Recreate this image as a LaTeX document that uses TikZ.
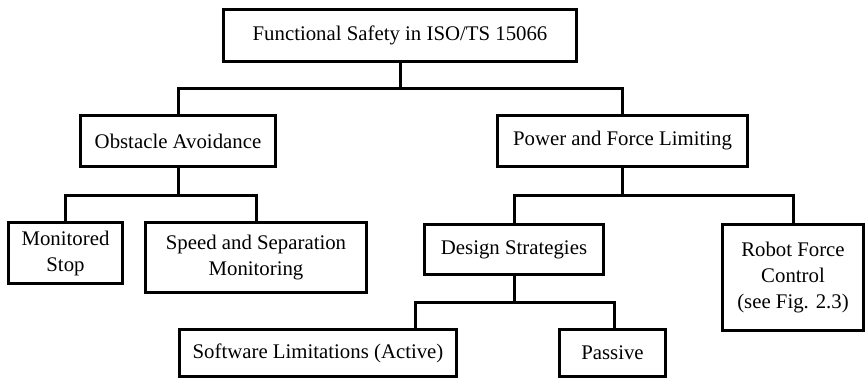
\documentclass[tikz,border=0pt]{standalone}
\usepackage{fontspec}
\setmainfont{Liberation Serif}
\usepackage{tikz}
\usetikzlibrary{positioning}

\begin{document}
\begin{tikzpicture}[x=0.5pt, y=-0.5pt, font=\fontsize{10.4}{13}\selectfont]

    % Define styles
    \tikzstyle{box} = [rectangle, draw, line width=1.5pt, align=center, inner sep=2pt]
    \tikzstyle{link} = [line width=1.5pt, line join=miter]

    \useasboundingbox (0,0) rectangle (866,380);

    % Root
    \node [box, minimum width=176.5pt, minimum height=26pt] (root) at (400,35.5) {Functional Safety in ISO/TS 15066};

    % Second level
    \node [box, minimum width=97.5pt, minimum height=25.5pt] (obst) at (178,141) {Obstacle Avoidance};
    \node [box, minimum width=125pt, minimum height=25.5pt] (pfl) at (622.5,141) {Power and Force Limiting};

    % Obstacle avoidance branch
    \node [box, minimum width=57pt, minimum height=30.5pt] (mstop) at (65.5,253) {Monitored\\Stop};
    \node [box, minimum width=110.5pt, minimum height=35pt] (ssm) at (256,257.5) {Speed and Separation\\Monitoring};

    % Power and force limiting branch
    \node [box, minimum width=89.5pt, minimum height=25pt] (design) at (514,249.5) {Design Strategies};
    \node [box, minimum width=70.5pt, minimum height=53pt] (rfc) at (793,277.5) {Robot Force\\Control\\(see Fig. 2.3)};

    % Design strategies branch
    \node [box, minimum width=138.5pt, minimum height=23.5pt] (soft) at (318,353) {Software Limitations (Active)};
    \node [box, minimum width=53pt, minimum height=23.5pt] (passive) at (612.5,353) {Passive};

    % Links
    \draw [link] (root.south) -- ++(0,25) coordinate (rootj);
    \draw [link] (rootj) -| (obst.north);
    \draw [link] (rootj) -| (pfl.north);
    \draw [link] (obst.south) -- ++(0,27) coordinate (obstj);
    \draw [link] (obstj) -| (mstop.north);
    \draw [link] (obstj) -| (ssm.north);
    \draw [link] (pfl.south) -- ++(0,27) coordinate (pflj);
    \draw [link] (pflj) -| (design.north);
    \draw [link] (pflj) -| (rfc.north);
    \draw [link] (design.south) -- ++(0,26) coordinate (designj);
    \draw [link] (designj) -| ([xshift=48.5pt]soft.north);
    \draw [link] (designj) -| ([xshift=0.75pt]passive.north);

\end{tikzpicture}
\end{document}
